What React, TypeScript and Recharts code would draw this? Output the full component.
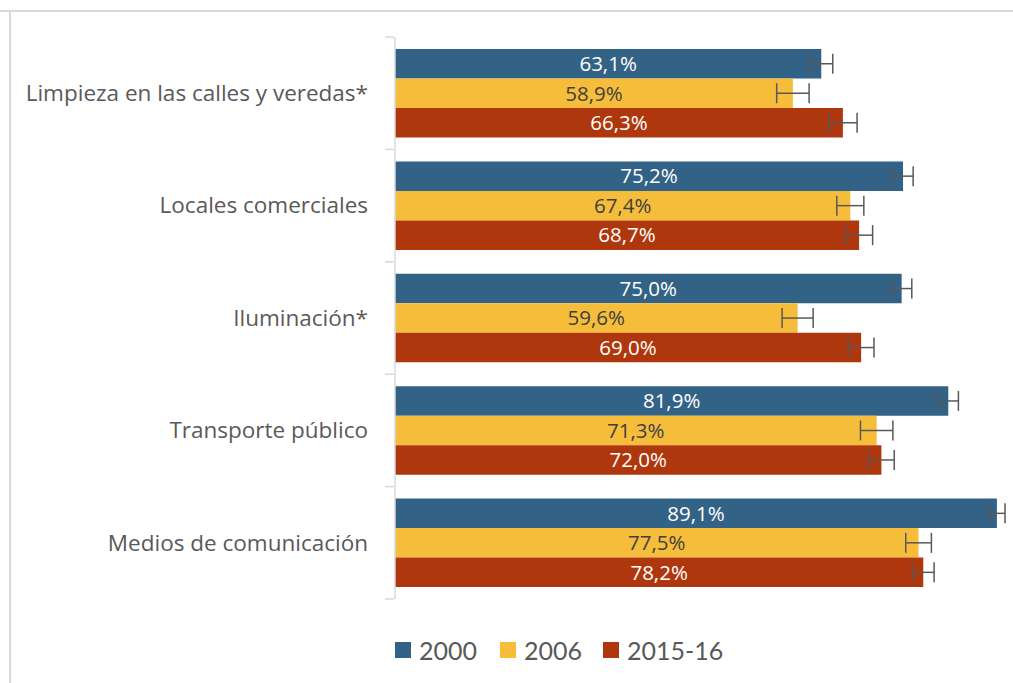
import React from 'react'
import { BarChart, Bar, XAxis, YAxis, ErrorBar, LabelList } from 'recharts'

const categories = [
  'Limpieza en las calles y veredas*',
  'Locales comerciales',
  'Iluminación*',
  'Transporte público',
  'Medios de comunicación',
]
const series = ['2000', '2006', '2015-16']
const values2000 = [63.1, 75.2, 75.0, 81.9, 89.1]
const values2006 = [58.9, 67.4, 59.6, 71.3, 77.5]
const values2015 = [66.3, 68.7, 69.0, 72.0, 78.2]
const err2000 = [1.7, 1.5, 1.5, 1.5, 1.2]
const err2006 = [2.4, 2.0, 2.3, 2.4, 1.9]
const err2015 = [2.1, 2.0, 1.9, 1.9, 1.6]

const colors = ['#336287', '#F6BD3A', '#AF370D']
const labelColors = ['#FFFFFF', '#404040', '#FFFFFF']

const data = categories.map((name, i) => ({
  name,
  v2000: values2000[i],
  v2006: values2006[i],
  v2015: values2015[i],
  e2000: err2000[i],
  e2006: err2006[i],
  e2015: err2015[i],
}))

const W = 1013
const H = 683
const MARGIN = { top: 37, right: 10, bottom: 84, left: 0 }
const AXIS_W = 395
const BAND = (H - MARGIN.top - MARGIN.bottom) / categories.length
const FONT = '"Open Sans", sans-serif'
const GRID = '#D9D9D9'

const fmt = (v: any) => Number(v).toFixed(1).replace('.', ',') + '%'

const CategoryTick = ({ y, payload, index }: any) => {
  const axisX = AXIS_W - 1
  return (
    <g>
      <line x1={axisX - 9} x2={axisX} y1={y - BAND / 2} y2={y - BAND / 2} stroke={GRID} strokeWidth={1.5} />
      {index === categories.length - 1 && (
        <line x1={axisX - 9} x2={axisX} y1={y + BAND / 2} y2={y + BAND / 2} stroke={GRID} strokeWidth={1.5} />
      )}
      <text x={368} y={y} dy="0.35em" textAnchor="end" fill="#595959" fontSize={22.5} fontFamily={FONT}>
        {payload.value}
      </text>
    </g>
  )
}

export default function App() {
  const keys = ['v2000', 'v2006', 'v2015']
  const errKeys = ['e2000', 'e2006', 'e2015']
  const legendWidths = [105, 103, 130]
  return (
    <div style={{ position: 'absolute', left: 0, top: 0, width: W, height: H, overflow: 'hidden', background: '#fff' }}>
      <div style={{ position: 'absolute', left: 0, top: 10, width: W, height: 0, borderTop: `2px solid ${GRID}` }} />
      <div style={{ position: 'absolute', left: 9, top: 10, width: 0, height: H, borderLeft: `2px solid ${GRID}` }} />
      <BarChart
        width={W}
        height={H}
        data={data}
        layout="vertical"
        margin={MARGIN}
        barGap={0}
        barSize={29.5}
        style={{ position: 'absolute', left: 0, top: 0 }}
      >
        <XAxis type="number" domain={[0, 90]} hide allowDataOverflow />
        <YAxis
          type="category"
          dataKey="name"
          width={AXIS_W}
          axisLine={{ stroke: GRID, strokeWidth: 1.5 }}
          tickLine={false}
          tick={<CategoryTick />}
          interval={0}
        />
        {keys.map((k, i) => (
          <Bar key={k} dataKey={k} name={series[i]} fill={colors[i]} isAnimationActive={false}>
            <LabelList dataKey={k} position="center" formatter={fmt} fill={labelColors[i]} fontSize={20.5} fontFamily={FONT} />
            <ErrorBar dataKey={errKeys[i]} direction="x" width={10} stroke="#595959" strokeWidth={1.5} />
          </Bar>
        ))}
      </BarChart>
      <div style={{ position: 'absolute', left: 395, top: 634, height: 32, display: 'flex', alignItems: 'center', whiteSpace: 'nowrap', fontFamily: 'Lato, sans-serif', fontSize: 25, color: '#595959' }}>
        {series.map((s, i) => (
          <div key={s} style={{ display: 'flex', alignItems: 'center', width: legendWidths[i], flexShrink: 0 }}>
            <span style={{ display: 'inline-block', width: 16, height: 16, background: colors[i], marginRight: 8, flexShrink: 0 }} />
            <span>{s}</span>
          </div>
        ))}
      </div>
    </div>
  )
}
